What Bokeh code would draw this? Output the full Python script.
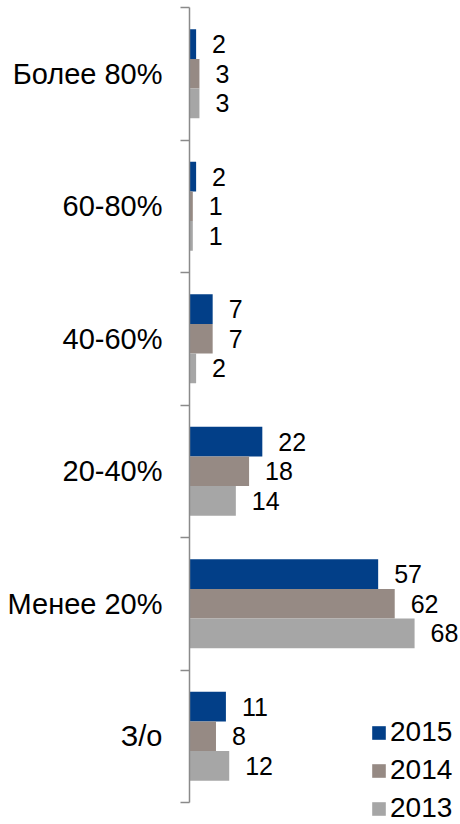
from bokeh.plotting import figure
from bokeh.models import (Range1d, ColumnDataSource, LabelSet, LinearAxis,
                          FixedTicker, Legend, LegendItem)
from bokeh.core.properties import value
from bokeh.embed import file_html
from bokeh.resources import INLINE

# ---- data ----
categories = ["Более 80%", "60-80%", "40-60%", "20-40%", "Менее 20%", "З/о"]
years = ["2015", "2014", "2013"]
values_2015 = [2, 2, 7, 22, 57, 11]
values_2014 = [3, 1, 7, 18, 62, 8]
values_2013 = [3, 1, 2, 14, 68, 12]
colors = ["#023F88", "#968A84", "#A6A6A6"]

FONT = "Liberation Sans"
W, H = 460, 824
LEFT = 189
TOP = 7
PX_PER_UNIT = 3.31
x_end = (W - LEFT) / PX_PER_UNIT
n = len(categories)
bottom_pad = 0.166  # room under the axis for the legend

# category centres on the y scale (first category on top)
centers = [n - i - 0.5 for i in range(n)]
bar_h = 0.224
offsets = [bar_h, 0.0, -bar_h]

data = dict(cat=categories, center=centers)
for year, vals, off in zip(years, [values_2015, values_2014, values_2013], offsets):
    data[f"v{year}"] = vals
    data[f"t{year}"] = [str(v) for v in vals]
    data[f"y{year}"] = [c + off for c in centers]
src = ColumnDataSource(data)

p = figure(width=W, height=H, output_backend="svg", toolbar_location=None,
           y_range=Range1d(-bottom_pad, n), x_range=Range1d(0, x_end),
           x_axis_location=None, y_axis_location=None,
           min_border_left=LEFT, min_border_right=0, min_border_top=TOP,
           min_border_bottom=0, outline_line_color=None)
p.xgrid.visible = False
p.ygrid.visible = False

renderers = []
for year, color in zip(years, colors):
    r = p.hbar(y=f"y{year}", left=0, right=f"v{year}", height=bar_h,
               fill_color=color, line_color=None, source=src)
    renderers.append(r)
    labels = LabelSet(x=f"v{year}", y=f"y{year}", text=f"t{year}",
                      x_offset=16, text_align="left", text_baseline="middle",
                      text_font=value(FONT), text_font_size="25px", text_color="#000000",
                      source=src)
    p.add_layout(labels)

# axis line with tick marks between the categories
boundaries = list(range(n + 1))
tick_axis = LinearAxis(ticker=FixedTicker(ticks=boundaries), bounds=(0, n),
                       major_label_overrides={b: "" for b in boundaries},
                       major_label_text_font_size="0px", major_label_standoff=0,
                       major_tick_out=9, major_tick_in=0, minor_tick_line_color=None,
                       axis_line_color="#8A8A8A", axis_line_width=1.5,
                       major_tick_line_color="#8A8A8A", major_tick_line_width=1.5)
p.add_layout(tick_axis, "left")

# category labels at the centres
label_axis = LinearAxis(ticker=FixedTicker(ticks=centers),
                        major_label_overrides={c: name for c, name in zip(centers, categories)},
                        axis_line_color=None, major_tick_line_color=None,
                        minor_tick_line_color=None, major_tick_out=0, major_tick_in=0,
                        major_label_text_font=FONT, major_label_text_font_size="29px",
                        major_label_text_color="#000000", major_label_standoff=18)
p.add_layout(label_axis, "left")

legend = Legend(items=[LegendItem(label=y, renderers=[r]) for y, r in zip(years, renderers)],
                location=(181, 0), orientation="vertical",
                glyph_width=17, glyph_height=17, label_height=32, label_standoff=3,
                spacing=6, padding=0, margin=0, border_line_color=None,
                background_fill_alpha=0, label_text_font=FONT,
                label_text_font_size="28px", label_text_color="#000000")
p.add_layout(legend)

open("out.html", "w").write(file_html(p, INLINE))
